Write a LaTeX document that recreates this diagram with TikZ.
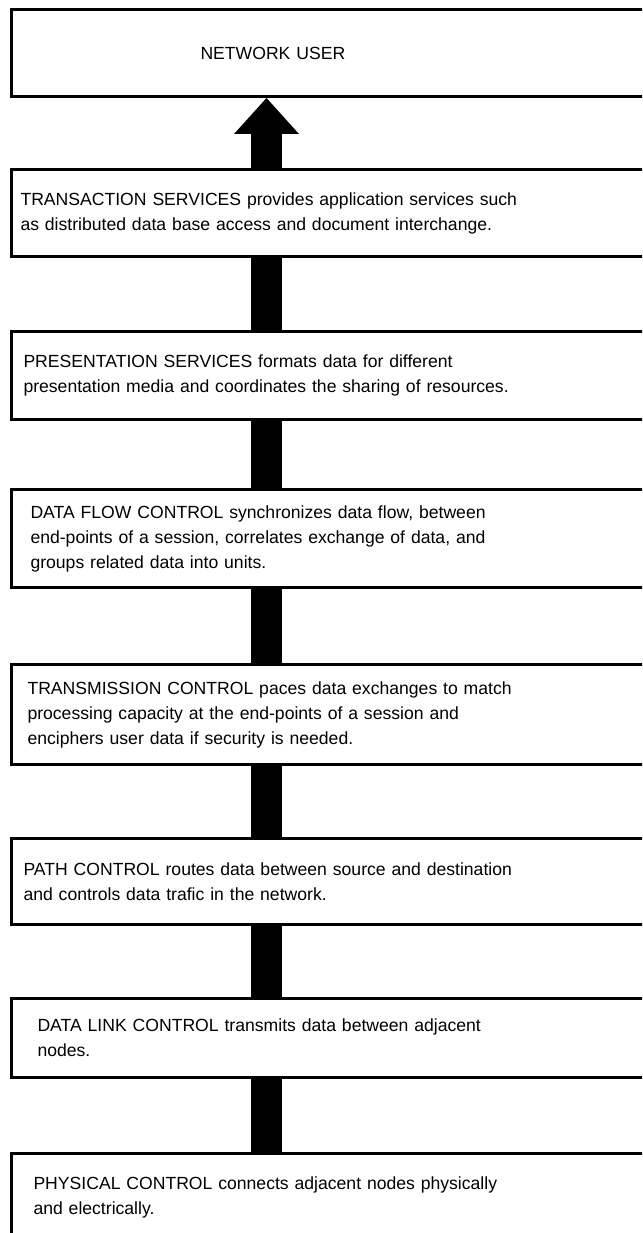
\documentclass[tikz,border=0pt]{standalone}
\usepackage{fontspec}
\setmainfont{Liberation Sans}
\usetikzlibrary{arrows.meta}

\begin{document}
\begin{tikzpicture}[x=1pt,y=-1pt,
        layer/.style={draw,line width=3pt,fill=white,anchor=north west,
            minimum width=650pt,inner sep=0pt,align=left,text width=#1},
        spine/.style={line width=31pt}]
    \fontsize{17.6}{25}\selectfont
    \useasboundingbox (0,0) rectangle (642,1233);
    \clip (0,0) rectangle (642,1233);

    \node [layer=272pt,minimum height=87pt] (user) at (10,8) {NETWORK USER};
    \node [layer=632pt,minimum height=87pt] (trans) at (10,168)
        {TRANSACTION SERVICES provides application services such\\
         as distributed data base access and document interchange.};
    \node [layer=626pt,minimum height=88pt] (pres) at (10,330)
        {PRESENTATION SERVICES formats data for different\\
         presentation media and coordinates the sharing of resources.};
    \node [layer=612pt,minimum height=98pt] (flow) at (10,488)
        {DATA FLOW CONTROL synchronizes data flow, between\\
         end-points of a session, correlates exchange of data, and\\
         groups related data into units.};
    \node [layer=618pt,minimum height=100pt] (tmc) at (10,663)
        {TRANSMISSION CONTROL paces data exchanges to match\\
         processing capacity at the end-points of a session and\\
         enciphers user data if security is needed.};
    \node [layer=626pt,minimum height=86pt] (path) at (10,837)
        {PATH CONTROL routes data between source and destination\\
         and controls data trafic in the network.};
    \node [layer=598pt,minimum height=79pt] (link) at (10,997)
        {DATA LINK CONTROL transmits data between adjacent\\
         nodes.};
    \node [layer=606pt,minimum height=88pt] (phys) at (10,1152)
        {PHYSICAL CONTROL connects adjacent nodes physically\\
         and electrically.};

    \coordinate (mid) at (266.5,0);
    \draw [spine,-{Triangle[width=65pt,length=36pt,line width=0pt]}]
        (trans.north -| mid) -- (user.south -| mid);
    \draw [spine]
        (pres.north -| mid) -- (trans.south -| mid)
        (flow.north -| mid) -- (pres.south -| mid)
        (tmc.north -| mid) -- (flow.south -| mid)
        (path.north -| mid) -- (tmc.south -| mid)
        (link.north -| mid) -- (path.south -| mid)
        (phys.north -| mid) -- (link.south -| mid)
    ;
\end{tikzpicture}
\end{document}
